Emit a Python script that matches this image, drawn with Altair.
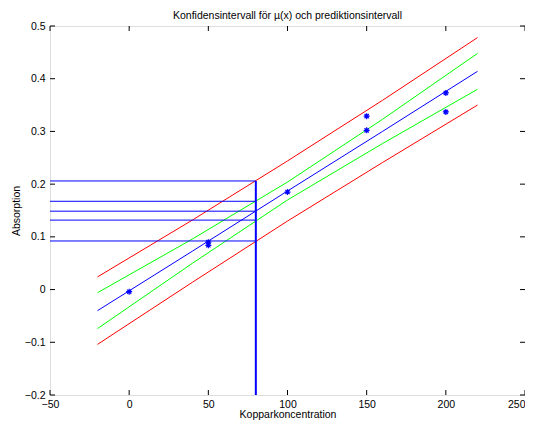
import altair as alt
import pandas as pd

# ---- data ----
line_x = [-20, 40, 100, 160, 220]
fit_y = [-0.040, 0.073, 0.187, 0.300, 0.414]
conf_upper = [-0.006, 0.096, 0.204, 0.323, 0.448]
conf_lower = [-0.074, 0.050, 0.170, 0.277, 0.380]
pred_upper = [0.024, 0.132, 0.244, 0.359, 0.478]
pred_lower = [-0.104, 0.014, 0.130, 0.241, 0.350]

obs_x = [0, 50, 50, 100, 150, 150, 200, 200]
obs_y = [-0.004, 0.090, 0.084, 0.185, 0.329, 0.302, 0.373, 0.337]

x0 = 80
levels = [0.206, 0.1675, 0.1487, 0.1318, 0.0922]

x_ticks = [-50, 0, 50, 100, 150, 200, 250]
y_ticks = [-0.2, -0.1, 0, 0.1, 0.2, 0.3, 0.4, 0.5]
x_dom = [-50, 250]
y_dom = [-0.2, 0.5]

W, H = 475, 369
FONT = "Liberation Sans"

rows = []
for name, kind, ys in [("pu", "pred", pred_upper), ("pl", "pred", pred_lower),
                       ("cu", "conf", conf_upper), ("cl", "conf", conf_lower),
                       ("fit", "fit", fit_y)]:
    for xv, yv in zip(line_x, ys):
        rows.append({"series": name, "kind": kind, "x": xv, "y": yv})
lines_df = pd.DataFrame(rows)
obs_df = pd.DataFrame({"x": obs_x, "y": obs_y})
lev_df = pd.DataFrame({"y": levels, "xs": [x_dom[0]] * len(levels), "xe": [x0] * len(levels)})
vert_df = pd.DataFrame({"x": [x0], "y": [y_dom[0]], "y2": [max(levels)]})
xt_df = pd.DataFrame({"v": x_ticks})
yt_df = pd.DataFrame({"v": y_ticks})

xs = alt.Scale(domain=x_dom, nice=False, zero=False)
ys_ = alt.Scale(domain=y_dom, nice=False, zero=False)

xaxis = alt.Axis(values=x_ticks, ticks=False, domain=False, grid=False, labelFlush=False,
                 labelOverlap=False, labelFont=FONT, labelFontSize=10.5, labelColor="black",
                 labelAlign={"condition": {"test": f"datum.value >= {x_dom[1]}", "value": "right"},
                             "value": "center"},
                 labelPadding=4, title="Kopparkoncentration", titleFont=FONT, titleFontSize=10.5,
                 titleFontWeight="normal", titleColor="black", titlePadding=0)
yaxis = alt.Axis(values=y_ticks, ticks=False, domain=False, grid=False, labelFlush=False,
                 labelOverlap=False, format="~g", labelFont=FONT, labelFontSize=10.5,
                 labelColor="black", labelPadding=5, title="Absorption", titleFont=FONT,
                 titleFontSize=10.5, titleFontWeight="normal", titleColor="black", titlePadding=3)

lines = alt.Chart(lines_df).mark_line(strokeWidth=1, clip=True).encode(
    x=alt.X("x:Q", scale=xs, axis=xaxis),
    y=alt.Y("y:Q", scale=ys_, axis=yaxis),
    color=alt.Color("kind:N", scale=alt.Scale(domain=["pred", "conf", "fit"],
                                             range=["#ff0000", "#00ff00", "#0000ff"]), legend=None),
    detail="series:N",
)

hlines = alt.Chart(lev_df).mark_rule(color="#0000ff", strokeWidth=1).encode(
    x=alt.X("xs:Q", scale=xs), x2="xe:Q", y=alt.Y("y:Q", scale=ys_))

vline = alt.Chart(vert_df).mark_rule(color="#0000ff", strokeWidth=2).encode(
    x=alt.X("x:Q", scale=xs), y=alt.Y("y:Q", scale=ys_), y2="y2:Q")

star = "M-1,0L1,0M0,-1L0,1M-0.7,-0.7L0.7,0.7M-0.7,0.7L0.7,-0.7"
pts = alt.Chart(obs_df).mark_point(shape=star, filled=False, color="#0000ff", size=36,
                                   strokeWidth=1.2, opacity=1).encode(
    x=alt.X("x:Q", scale=xs), y=alt.Y("y:Q", scale=ys_))

xt_bot = alt.Chart(xt_df).mark_rule(color="black", strokeWidth=1).encode(
    x=alt.X("v:Q", scale=xs), y=alt.value(H), y2=alt.value(H - 5))
xt_top = alt.Chart(xt_df).mark_rule(color="black", strokeWidth=1).encode(
    x=alt.X("v:Q", scale=xs), y=alt.value(0), y2=alt.value(5))
yt_left = alt.Chart(yt_df).mark_rule(color="black", strokeWidth=1).encode(
    y=alt.Y("v:Q", scale=ys_), x=alt.value(0), x2=alt.value(5))
yt_right = alt.Chart(yt_df).mark_rule(color="black", strokeWidth=1).encode(
    y=alt.Y("v:Q", scale=ys_), x=alt.value(W - 5), x2=alt.value(W))

chart = alt.layer(lines, hlines, vline, pts, xt_bot, xt_top, yt_left, yt_right).properties(
    width=W, height=H,
    title=alt.TitleParams("Konfidensintervall för µ(x) och prediktionsintervall", font=FONT,
                          fontSize=10.5, fontWeight="normal", color="black", offset=0),
    autosize=alt.AutoSizeParams(type="none"),
    padding={"left": 42, "top": 18, "right": 0, "bottom": 25},
).configure_view(stroke="black", strokeWidth=1.2).configure(background="white")

chart.save("out.html", embed_options={"renderer": "svg", "actions": False})
